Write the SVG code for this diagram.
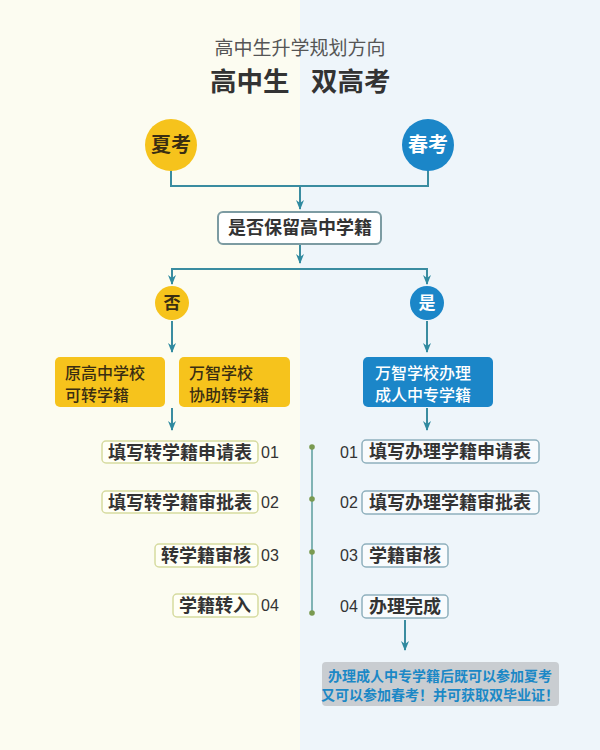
<svg xmlns="http://www.w3.org/2000/svg" width="600" height="750" viewBox="0 0 600 750">
<defs>
<marker id="ah" markerWidth="10" markerHeight="8" refX="9" refY="4" orient="auto" markerUnits="userSpaceOnUse">
<path d="M0,0 L10,4 L0,8 L3,4 Z" fill="#2f8aa0"/>
</marker>
</defs>
<style>
text{font-family:"Noto Sans CJK SC","Noto Sans",sans-serif}
.con{fill:none;stroke:#3a8ca0;stroke-width:2}
.arr{fill:none;stroke:#3a8ca0;stroke-width:2;marker-end:url(#ah)}
.yel{fill:#f6c31c}
.blu{fill:#1b86c8}
.dk{fill:#3a2e12;font-weight:700}
.wt{fill:#ffffff;font-weight:700}
.bt{font-size:16px;font-weight:500}
.step{font-size:18px;font-weight:700;fill:#333}
.num{font-family:"Liberation Sans","Noto Sans",sans-serif;font-size:16px;fill:#333}
.lbox{fill:#fffff6;stroke:#d6dba0;stroke-width:1.5}
.rbox{fill:#f8fbfd;stroke:#8fb0bd;stroke-width:1.5}
</style>
<rect x="0" y="0" width="300" height="750" fill="#fcfcf1"/>
<rect x="300" y="0" width="300" height="750" fill="#eef5fa"/>

<g id="title">
<text x="300" y="55" text-anchor="middle" font-size="19" fill="#555">高中生升学规划方向</text>
<text x="210" y="91" font-size="26.5" font-weight="700" fill="#333">高中生</text>
<text x="311" y="91" font-size="26.5" font-weight="700" fill="#333">双高考</text>
</g>

<g id="connectors">
<path class="con" d="M171,170 V186 H428 V170"/>
<path class="arr" d="M300,186 V209"/>
<path class="arr" d="M300,245 V263"/>
<path class="con" d="M172,284 V269 H427 V284"/>
<path class="arr" d="M172,269 V284"/>
<path class="arr" d="M427,269 V284"/>
<path class="arr" d="M172,321 V352"/>
<path class="arr" d="M427,321 V352"/>
<path class="arr" d="M172,408 V430"/>
<path class="arr" d="M427,408 V430"/>
<path class="arr" d="M405,620 V650"/>
<line x1="312" y1="447" x2="312" y2="613" stroke="#5b9c9c" stroke-width="1.5"/>
<circle cx="312" cy="447" r="2.8" fill="#7a9a50"/>
<circle cx="312" cy="499" r="2.8" fill="#7a9a50"/>
<circle cx="312" cy="552" r="2.8" fill="#7a9a50"/>
<circle cx="312" cy="613" r="2.8" fill="#7a9a50"/>
</g>

<g id="xiakao">
<circle class="yel" cx="171" cy="145" r="26"/>
<text class="dk" x="171" y="152" text-anchor="middle" font-size="20">夏考</text>
</g>
<g id="chunkao">
<circle class="blu" cx="428" cy="145" r="26"/>
<text class="wt" x="428" y="152" text-anchor="middle" font-size="20">春考</text>
</g>

<g id="keep">
<rect x="218" y="212" width="163" height="32" rx="5" fill="#ffffff" stroke="#7c9ba2" stroke-width="2"/>
<text x="300" y="234" text-anchor="middle" font-size="18" font-weight="700" fill="#333">是否保留高中学籍</text>
</g>

<g id="fou">
<circle class="yel" cx="172" cy="303" r="17"/>
<text class="dk" x="172" y="309" text-anchor="middle" font-size="17">否</text>
</g>
<g id="shi">
<circle class="blu" cx="427" cy="303" r="17"/>
<text class="wt" x="427" y="309" text-anchor="middle" font-size="17">是</text>
</g>

<g id="yuan">
<rect class="yel" x="55" y="357" width="110" height="50" rx="5"/>
<text class="bt" x="65" y="379" fill="#3a2e12">原高中学校</text>
<text class="bt" x="65" y="401" fill="#3a2e12">可转学籍</text>
</g>
<g id="wanzhi-help">
<rect class="yel" x="179" y="357" width="111" height="50" rx="5"/>
<text class="bt" x="189" y="379" fill="#3a2e12">万智学校</text>
<text class="bt" x="189" y="401" fill="#3a2e12">协助转学籍</text>
</g>
<g id="wanzhi-adult">
<rect class="blu" x="363" y="357" width="130" height="50" rx="5"/>
<text class="bt" x="375" y="379" fill="#fff">万智学校办理</text>
<text class="bt" x="375" y="401" fill="#fff">成人中专学籍</text>
</g>

<g id="l1">
<rect class="lbox" x="102" y="441" width="156" height="22" rx="4"/>
<text class="step" x="180" y="459" text-anchor="middle">填写转学籍申请表</text>
<text class="num" x="261" y="458">01</text>
</g>
<g id="l2">
<rect class="lbox" x="102" y="491" width="156" height="22" rx="4"/>
<text class="step" x="180" y="509" text-anchor="middle">填写转学籍审批表</text>
<text class="num" x="261" y="508">02</text>
</g>
<g id="l3">
<rect class="lbox" x="155" y="544" width="103" height="23" rx="4"/>
<text class="step" x="206" y="562" text-anchor="middle">转学籍审核</text>
<text class="num" x="261" y="561">03</text>
</g>
<g id="l4">
<rect class="lbox" x="173" y="594" width="85" height="23" rx="4"/>
<text class="step" x="215" y="612" text-anchor="middle">学籍转入</text>
<text class="num" x="261" y="611">04</text>
</g>

<g id="r1">
<text class="num" x="340" y="458">01</text>
<rect class="rbox" x="362" y="440" width="177" height="23" rx="4"/>
<text class="step" x="450" y="458" text-anchor="middle">填写办理学籍申请表</text>
</g>
<g id="r2">
<text class="num" x="340" y="508">02</text>
<rect class="rbox" x="362" y="491" width="177" height="23" rx="4"/>
<text class="step" x="450" y="509" text-anchor="middle">填写办理学籍审批表</text>
</g>
<g id="r3">
<text class="num" x="340" y="561">03</text>
<rect class="rbox" x="362" y="544" width="86" height="23" rx="4"/>
<text class="step" x="405" y="562" text-anchor="middle">学籍审核</text>
</g>
<g id="r4">
<text class="num" x="340" y="612">04</text>
<rect class="rbox" x="362" y="595" width="86" height="23" rx="4"/>
<text class="step" x="405" y="613" text-anchor="middle">办理完成</text>
</g>

<g id="result">
<rect x="322" y="662" width="237" height="44" rx="4" fill="#c9cdd1"/>
<text x="440" y="681" text-anchor="middle" font-size="14" font-weight="700" fill="#1b88c6">办理成人中专学籍后既可以参加夏考</text>
<text x="440" y="700" text-anchor="middle" font-size="14" font-weight="700" fill="#1b88c6">又可以参加春考！并可获取双毕业证！</text>
</g>
</svg>
